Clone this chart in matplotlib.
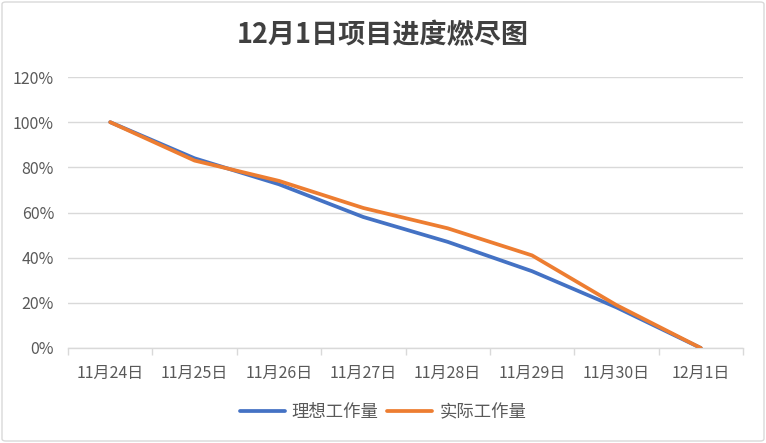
import matplotlib
matplotlib.use("Agg")
import matplotlib.pyplot as plt
from matplotlib.patches import FancyBboxPatch
from matplotlib.ticker import FixedLocator, NullFormatter

plt.rcParams['font.family'] = ['Noto Sans CJK SC', 'DejaVu Sans']

categories = ["11月24日", "11月25日", "11月26日", "11月27日", "11月28日", "11月29日", "11月30日", "12月1日"]
ideal = [100, 84, 72.5, 58, 47, 34, 18, 0]
actual = [100, 83, 74, 62, 53, 41, 19, 0]
yticks = [0, 20, 40, 60, 80, 100, 120]
series_names = ["理想工作量", "实际工作量"]

fig = plt.figure(figsize=(7.66, 4.43), dpi=100)
ax = fig.add_axes([68/766, 1-348/443, (743-68)/766, (348-77)/443])

x = list(range(len(categories)))
ax.plot(x, ideal, color="#4472C4", lw=2.7, label=series_names[0], solid_capstyle='round', zorder=3)
ax.plot(x, actual, color="#ED7D31", lw=2.7, label=series_names[1], solid_capstyle='round', zorder=4)

ax.set_xlim(-0.5, len(categories)-0.5)
ax.set_ylim(0, 120)
ax.set_yticks(yticks)
ax.set_yticklabels([f"{v}%" for v in yticks])
ax.set_xticks(x)
ax.set_xticklabels(categories)
ax.xaxis.set_minor_locator(FixedLocator([i - 0.5 for i in range(len(categories)+1)]))
ax.xaxis.set_minor_formatter(NullFormatter())
ax.tick_params(axis='x', which='major', length=0, pad=12, labelsize=11.5, colors="#595959")
ax.tick_params(axis='x', which='minor', length=5, width=1, color="#D9D9D9")
ax.tick_params(axis='y', length=0, pad=10, labelsize=11.5, colors="#595959")

ax.grid(axis='y', color="#D9D9D9", lw=1)
ax.set_axisbelow(True)
for s in ['top', 'right', 'left']:
    ax.spines[s].set_visible(False)
ax.spines['bottom'].set_color("#D9D9D9")
ax.spines['bottom'].set_linewidth(1)

fig.text(0.5, 1-35/443, "12月1日项目进度燃尽图", ha='center', va='center',
         fontsize=19.5, fontweight='bold', color="#404040")

leg = fig.legend(loc='center', bbox_to_anchor=(0.5, 1-412/443), ncol=2, frameon=False,
                 fontsize=12.5, handlelength=2.6, columnspacing=0.5, handletextpad=0.4)
for t in leg.get_texts():
    t.set_color("#595959")

border = FancyBboxPatch((2/766, 2/443), 762/766, 439/443, boxstyle="round,pad=0,rounding_size=0.005",
                        transform=fig.transFigure, fill=False, edgecolor="#D9D9D9", lw=1)
fig.patches.append(border)

fig.savefig("out.png", dpi=100)
